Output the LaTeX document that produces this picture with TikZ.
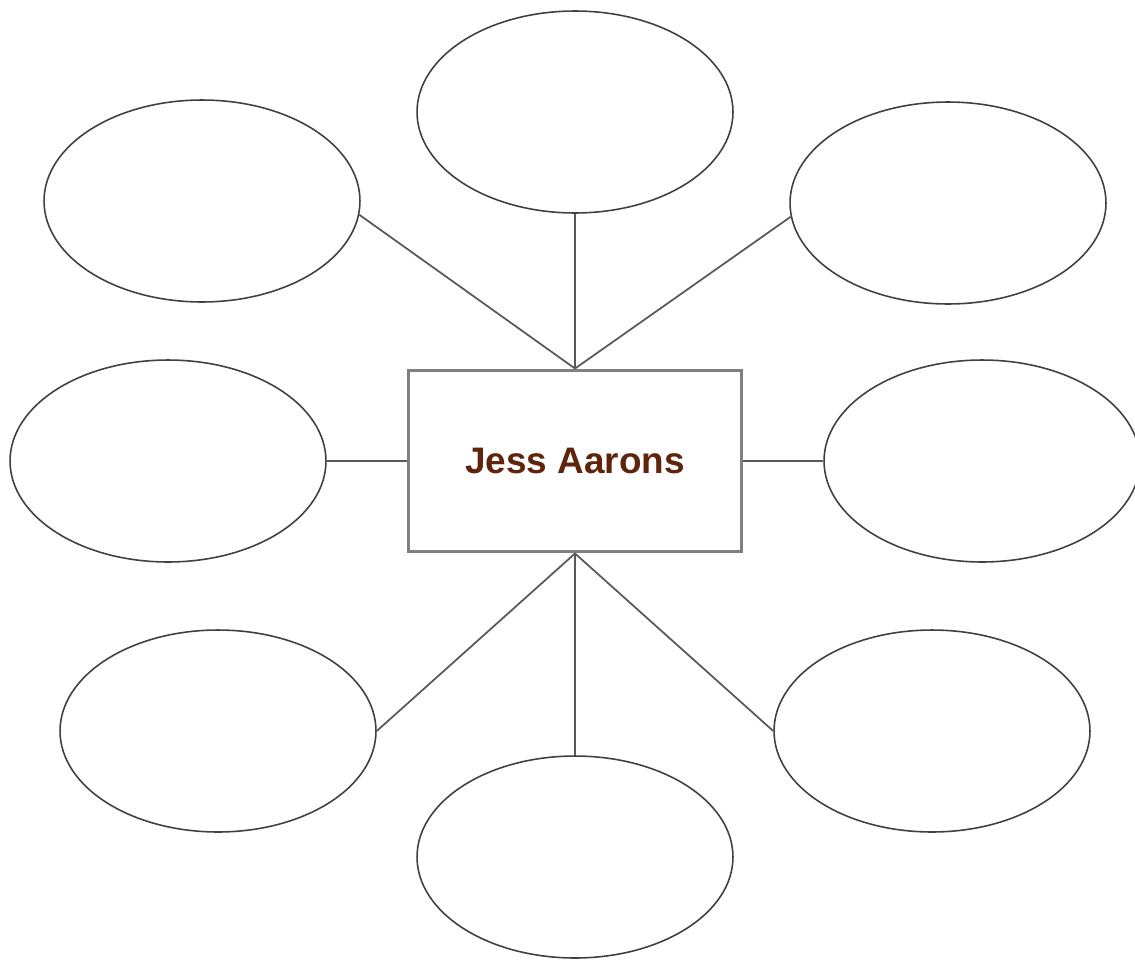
\documentclass[tikz,border=0pt]{standalone}
\usepackage{fontspec}
\setmainfont{Liberation Sans}
\usepackage{xcolor}
\usetikzlibrary{shapes.geometric}
\definecolor{namebrown}{RGB}{94,36,12}

\begin{document}
\begin{tikzpicture}[x=0.02cm, y=-0.02cm,
    bubble/.style={draw=black!75, line width=0.9pt, ellipse, minimum width=6.32cm, minimum height=4.04cm},
    link/.style={draw=black!65, line width=1pt}]
  \useasboundingbox (0,0) rectangle (1135,960);
  \node[draw=black!50, line width=1.7pt, minimum width=6.68cm, minimum height=3.64cm,
        font=\bfseries\fontsize{21}{25}\selectfont, text=namebrown] (jess) at (575,461) {Jess Aarons};
  \node[bubble] (top) at (575,112) {};
  \node[bubble] (ul) at (202,201) {};
  \node[bubble] (ur) at (948,203) {};
  \node[bubble] (ml) at (168,461) {};
  \node[bubble] (mr) at (982,461) {};
  \node[bubble] (ll) at (218,731) {};
  \node[bubble] (lr) at (932,731) {};
  \node[bubble] (bot) at (575,857) {};
  \draw[link] (jess.north) -- (ul.-5);
  \draw[link] (jess.north) -- (top.south);
  \draw[link] (jess.north) -- (ur.185);
  \draw[link] (jess.west) -- (ml.east);
  \draw[link] (jess.east) -- (mr.west);
  \draw[link] (jess.south) -- (ll.east);
  \draw[link] (jess.south) -- (bot.north);
  \draw[link] (jess.south) -- (lr.west);
\end{tikzpicture}
\end{document}
